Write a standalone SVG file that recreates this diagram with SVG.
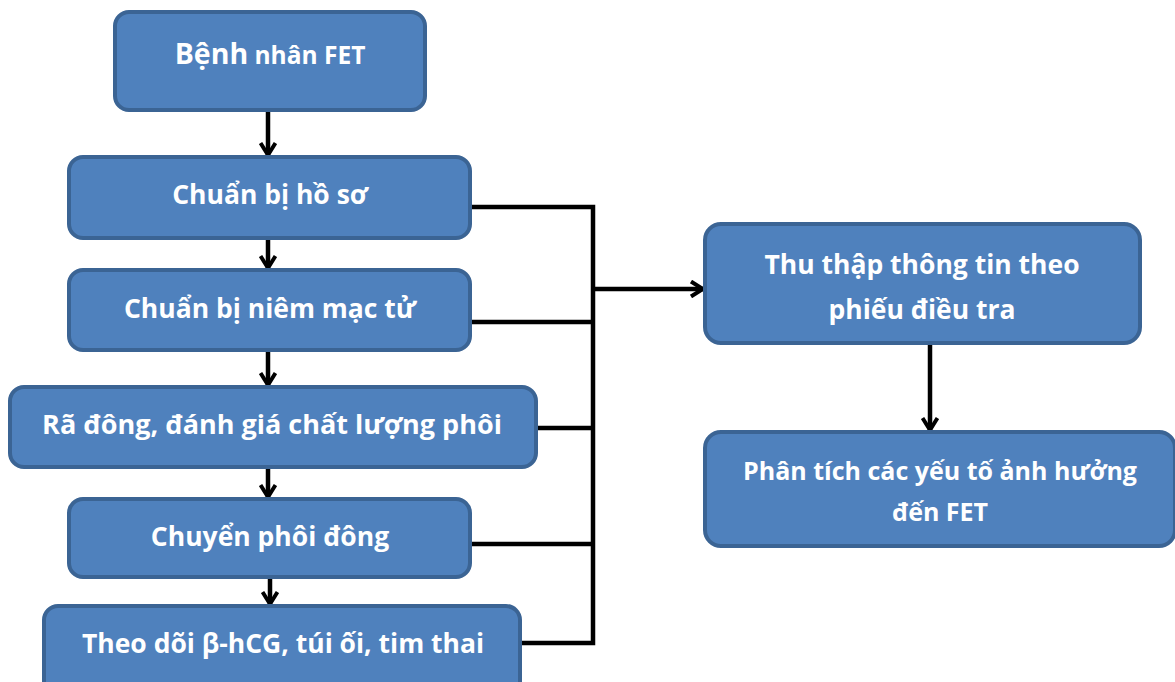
<svg xmlns="http://www.w3.org/2000/svg" width="1175" height="682" viewBox="0 0 1175 682">
<style>
.box{fill:#4F81BD;stroke:#3B6494;stroke-width:4}
.t{font-family:"Open Sans","Liberation Sans",sans-serif;font-weight:bold;fill:#FFFFFF;font-size:26.5px;text-anchor:middle}
.c{fill:none;stroke:#000;stroke-width:4.5}
</style>
<defs>
<marker id="ah" viewBox="0 0 16 18" refX="14" refY="9" markerWidth="16" markerHeight="18" markerUnits="userSpaceOnUse" orient="auto">
<path d="M2,1.5 L14,9 L2,16.5" fill="none" stroke="#000" stroke-width="4"/>
</marker>
</defs>
<g id="connectors">
<path class="c" d="M268,110 V155" marker-end="url(#ah)"/>
<path class="c" d="M268,238 V268" marker-end="url(#ah)"/>
<path class="c" d="M268,350 V385" marker-end="url(#ah)"/>
<path class="c" d="M268,467 V497" marker-end="url(#ah)"/>
<path class="c" d="M270,577 V604" marker-end="url(#ah)"/>
<path class="c" d="M470,207 H593 V643 H520"/>
<path class="c" d="M470,322 H593"/>
<path class="c" d="M536,428 H593"/>
<path class="c" d="M470,544 H593"/>
<path class="c" d="M593,289 H703" marker-end="url(#ah)"/>
<path class="c" d="M930,343 V430" marker-end="url(#ah)"/>
</g>
<g id="n1"><rect class="box" x="115" y="12" width="310" height="98" rx="14"/>
<text class="t" x="270" y="64" style="font-size:24.5px"><tspan style="font-size:28.5px">Bệnh</tspan> nhân FET</text></g>
<g id="n2"><rect class="box" x="69" y="157" width="401" height="81" rx="14"/>
<text class="t" x="270" y="204">Chuẩn bị hồ sơ</text></g>
<g id="n3"><rect class="box" x="69" y="270" width="401" height="80" rx="14"/>
<text class="t" x="270" y="318">Chuẩn bị niêm mạc tử</text></g>
<g id="n4"><rect class="box" x="10" y="387" width="526" height="80" rx="14"/>
<text class="t" x="272" y="434" style="font-size:27px">Rã đông, đánh giá chất lượng phôi</text></g>
<g id="n5"><rect class="box" x="69" y="499" width="401" height="78" rx="14"/>
<text class="t" x="270" y="546">Chuyển phôi đông</text></g>
<g id="n6"><rect class="box" x="44" y="606" width="476" height="90" rx="14"/>
<text class="t" x="283" y="653">Theo dõi β-hCG, túi ối, tim thai</text></g>
<g id="n7"><rect class="box" x="705" y="224" width="435" height="119" rx="16"/>
<text class="t" x="922" y="274">Thu thập thông tin theo</text>
<text class="t" x="922" y="319">phiếu điều tra</text></g>
<g id="n8"><rect class="box" x="705" y="432" width="470" height="114" rx="16"/>
<text class="t" x="940" y="480" style="font-size:25px">Phân tích các yếu tố ảnh hưởng</text>
<text class="t" x="940" y="521" style="font-size:25px">đến FET</text></g>
</svg>
